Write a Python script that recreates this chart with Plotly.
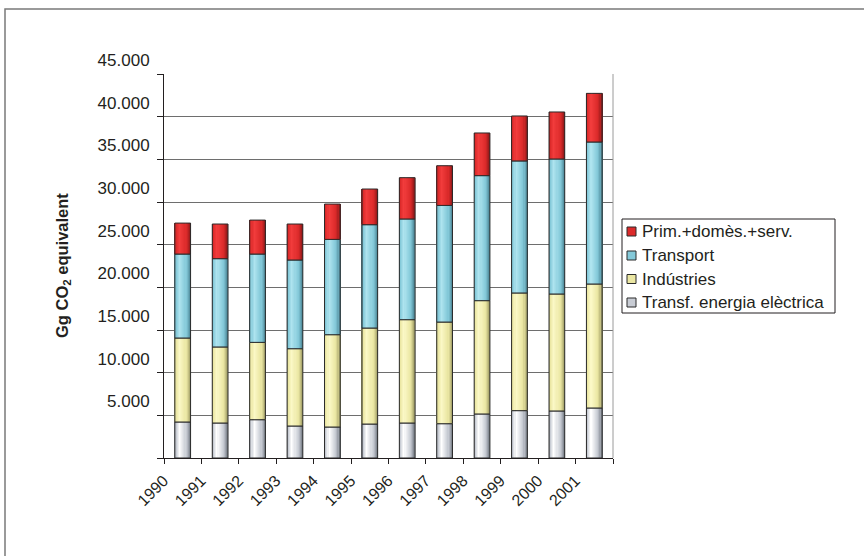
import plotly.graph_objects as go

# Emissions by sector, Gg CO2 equivalent
years = ["1990", "1991", "1992", "1993", "1994", "1995",
         "1996", "1997", "1998", "1999", "2000", "2001"]
transf_energia = [4220, 4100, 4490, 3750, 3630, 3980, 4100, 4020, 5160, 5550, 5510, 5860]
industries = [9840, 8910, 9060, 9060, 10820, 11250, 12110, 11910, 13280, 13790, 13710, 14530]
transport = [9840, 10350, 10350, 10390, 11170, 12110, 11800, 13670, 14650, 15470, 15820, 16640]
prim_domes_serv = [3630, 4060, 3980, 4220, 4140, 4180, 4840, 4650, 5000, 5270, 5510, 5700]

series_names = ["Transf. energia elèctrica", "Indústries", "Transport", "Prim.+domès.+serv."]
series_values = [transf_energia, industries, transport, prim_domes_serv]
# (dark edge, body, highlight) per series
series_colors = [
    ("#5f6670", "#c8ccd4", "#ffffff"),
    ("#8c8a55", "#ebe7a3", "#fbf8c6"),
    ("#3c7585", "#84c9d9", "#aee4ef"),
    ("#7a1414", "#dc2a2a", "#f23c3c"),
]

# Plot area geometry in pixels
W, H = 864, 556
L, R, T, B = 164, 613, 74, 458
pw, ph = R - L, B - T


def px_x(x):
    return (x - L) / pw


def px_y(y):
    return (B - y) / ph


def hex_rgb(h):
    h = h.lstrip("#")
    return [int(h[i:i + 2], 16) for i in (0, 2, 4)]


def mix(c1, c2, w):
    a, b = hex_rgb(c1), hex_rgb(c2)
    return "rgb(%d,%d,%d)" % tuple(round(a[i] + (b[i] - a[i]) * w) for i in range(3))


# Cylinder-like shading profile across the column width
profile = [(0.0, -0.6), (0.12, 0.1), (0.32, 1.0), (0.55, 0.45), (0.85, -0.25), (1.0, -0.75)]


def weight(t):
    for (t0, w0), (t1, w1) in zip(profile, profile[1:]):
        if t0 <= t <= t1:
            return w0 + (w1 - w0) * (t - t0) / (t1 - t0)
    return profile[-1][1]


def shade(colors, t):
    dark, body, light = colors
    w = weight(t)
    return mix(body, light, w) if w >= 0 else mix(body, dark, -w)


bar_w = 0.42
n_strips = 14
edge = "#2b2b2b"

fig = go.Figure()

bases = [0] * len(years)
for name, vals, cols in zip(series_names, series_values, series_colors):
    for i in range(n_strips):
        t = (i + 0.5) / n_strips
        fig.add_trace(go.Bar(
            x=years, y=vals, base=bases,
            width=bar_w / n_strips + 0.004,
            offset=-bar_w / 2 + i * bar_w / n_strips,
            marker=dict(color=shade(cols, t), line=dict(width=0)),
            showlegend=False, hoverinfo="skip",
        ))
    fig.add_trace(go.Bar(
        x=years, y=vals, base=bases, width=bar_w, offset=-bar_w / 2,
        marker=dict(color="rgba(0,0,0,0)", line=dict(color=edge, width=1)),
        showlegend=False, name=name,
    ))
    bases = [b + v for b, v in zip(bases, vals)]

yticks = list(range(0, 45001, 5000))
ytext = [""] + ["{:,}".format(v).replace(",", ".") for v in yticks[1:]]

shapes = [
    # right edge of the plot area
    dict(type="line", xref="paper", yref="paper", x0=1, x1=1, y0=0, y1=1,
         line=dict(color="#9a9a9a", width=1)),
    # outer chart frame
    dict(type="rect", xref="paper", yref="paper",
         x0=px_x(5), x1=px_x(875), y0=px_y(570), y1=px_y(9),
         line=dict(color="#7a7a7a", width=1.5), layer="below"),
    # legend box
    dict(type="rect", xref="paper", yref="paper",
         x0=px_x(622), x1=px_x(835), y0=px_y(313), y1=px_y(219),
         line=dict(color="#231f20", width=1), fillcolor="white"),
]

annotations = [dict(
    text="<b>Gg CO<sub>2</sub> equivalent</b>", textangle=-90,
    xref="paper", yref="paper", x=px_x(63), y=px_y(266),
    xanchor="center", yanchor="middle", showarrow=False,
    font=dict(size=16.5),
)]

# Legend rows, top to bottom
row_y = [231.5, 255.5, 279, 302.5]
for ry, name, cols in zip(row_y, reversed(series_names), reversed(series_colors)):
    shapes.append(dict(
        type="rect", xref="paper", yref="paper",
        x0=px_x(627), x1=px_x(636), y0=px_y(ry + 4.5), y1=px_y(ry - 4.5),
        fillcolor=cols[1], line=dict(color=edge, width=1),
    ))
    annotations.append(dict(
        text=name, xref="paper", yref="paper", x=px_x(640), y=px_y(ry),
        xanchor="left", yanchor="middle", showarrow=False, font=dict(size=17),
    ))

fig.update_layout(
    width=W, height=H,
    margin=dict(l=L, r=W - R, t=T, b=H - B),
    barmode="overlay", showlegend=False,
    paper_bgcolor="white", plot_bgcolor="white",
    font=dict(family="Liberation Sans, Arial, sans-serif", color="#231f20"),
    xaxis=dict(
        type="category", range=[-0.5, 11.5],
        tickson="boundaries", ticks="outside", ticklen=5, tickcolor="#231f20",
        showline=True, linecolor="#231f20", linewidth=1,
        showgrid=False, tickangle=-45, ticklabelshift=-round(pw / 24),
        ticklabelstandoff=6, tickfont=dict(size=16),
    ),
    yaxis=dict(
        range=[0, 45000], tickvals=yticks, ticktext=ytext,
        ticks="outside", ticklen=6, tickcolor="#231f20",
        showline=True, linecolor="#231f20", linewidth=1,
        showgrid=True, gridcolor="#6e6e6e", gridwidth=1,
        ticklabelshift=-14, ticklabelstandoff=4,
        tickfont=dict(size=17), zeroline=False,
    ),
    shapes=shapes,
    annotations=annotations,
)

fig.write_html("out.html")
